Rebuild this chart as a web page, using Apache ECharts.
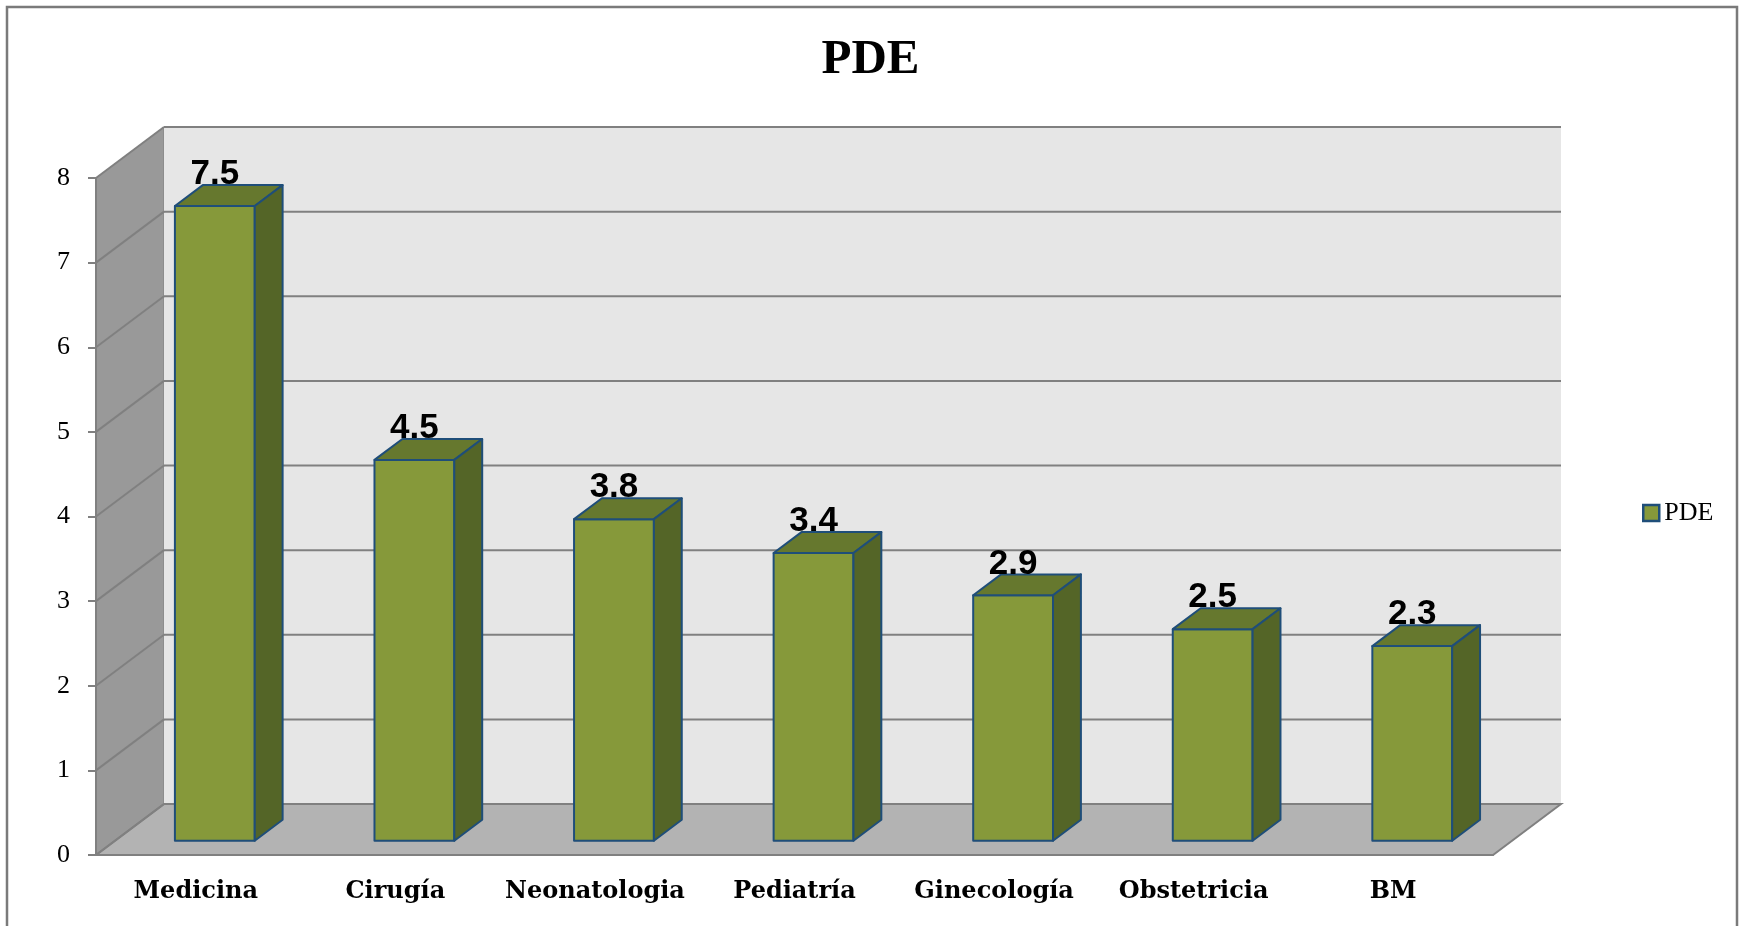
<!DOCTYPE html>
<html>
<head>
<meta charset="utf-8">
<title>PDE</title>
<script src="https://cdn.jsdelivr.net/npm/echarts@6/dist/echarts.min.js"></script>
<style>
  html, body { margin: 0; padding: 0; background: #fff; }
  #chart { width: 1741px; height: 926px; }
</style>
</head>
<body>
<div id="chart"></div>
<script>
// datos del gráfico
const categories = ['Medicina', 'Cirugía', 'Neonatologia', 'Pediatría', 'Ginecología', 'Obstetricia', 'BM']
const pdeValues = [7.5, 4.5, 3.8, 3.4, 2.9, 2.5, 2.3]
const yTicks = [0, 1, 2, 3, 4, 5, 6, 7, 8]

// profundidad de la vista 3D (px)
const DX = 68
const DY = -51
const F0 = 0.28
const F1 = 0.69

const GRID_LINE = '#808080'

const myChart = echarts.init(document.getElementById('chart'))

function renderWalls (params, api) {
  const v = api.value(1)
  const cs = params.coordSys
  const x0 = cs.x
  const x1 = cs.x + cs.width
  const yTop = cs.y
  const yBot = cs.y + cs.height
  const y = api.coord([0, v])[1]
  const children = []
  if (v === 0) {
    // pared izquierda
    children.push({
      type: 'polygon',
      shape: { points: [[x0, yBot], [x0, yTop], [x0 + DX, yTop + DY], [x0 + DX, yBot + DY]] },
      style: { fill: '#999999', stroke: GRID_LINE, lineWidth: 1 }
    })
    // pared de fondo
    children.push({
      type: 'rect',
      shape: { x: x0 + DX, y: yTop + DY, width: cs.width, height: cs.height },
      style: { fill: '#e6e6e6' }
    })
    // suelo
    children.push({
      type: 'polygon',
      shape: { points: [[x0, yBot], [x1, yBot], [x1 + DX, yBot + DY], [x0 + DX, yBot + DY]] },
      style: { fill: '#b3b3b3', stroke: GRID_LINE, lineWidth: 2 }
    })
  }
  children.push({
    type: 'line',
    shape: { x1: x0, y1: y, x2: x0 + DX, y2: y + DY },
    style: { stroke: GRID_LINE, lineWidth: 2 }
  })
  children.push({
    type: 'line',
    shape: { x1: x0 + DX, y1: y + DY, x2: x1 + DX, y2: y + DY },
    style: { stroke: GRID_LINE, lineWidth: 2 }
  })
  return { type: 'group', children: children }
}

function renderBars (params, api) {
  const idx = api.value(0)
  const val = api.value(1)
  const base = api.coord([idx, 0])
  const top = api.coord([idx, val])
  const band = api.size([1, 0])[0]
  const w = band * 0.4
  const ddx = DX * (F1 - F0)
  const ddy = DY * (F1 - F0)
  const cx = base[0] + DX * F0
  const l = cx - w / 2
  const r = cx + w / 2
  const b = base[1] + DY * F0
  const t = top[1] + DY * F0
  const edge = { stroke: '#1f4e79', lineWidth: 2, lineJoin: 'round' }
  return {
    type: 'group',
    children: [
      {
        type: 'rect',
        shape: { x: l, y: t, width: w, height: b - t },
        style: Object.assign({ fill: '#86993a' }, edge)
      },
      {
        type: 'polygon',
        shape: { points: [[l, t], [r, t], [r + ddx, t + ddy], [l + ddx, t + ddy]] },
        style: Object.assign({ fill: '#66782e' }, edge)
      },
      {
        type: 'polygon',
        shape: { points: [[r, b], [r, t], [r + ddx, t + ddy], [r + ddx, b + ddy]] },
        style: Object.assign({ fill: '#546527' }, edge)
      },
      {
        type: 'text',
        style: {
          text: String(val),
          x: cx,
          y: t + ddy + 7,
          align: 'center',
          verticalAlign: 'bottom',
          font: 'bold 35px "Liberation Sans", Arial, sans-serif',
          fill: '#000'
        }
      }
    ]
  }
}

const option = {
  animation: false,
  title: {
    text: 'PDE',
    left: 'center',
    top: 31,
    textStyle: {
      fontFamily: 'Liberation Serif',
      fontWeight: 'bold',
      fontSize: 49,
      color: '#000'
    }
  },
  legend: {
    data: ['PDE'],
    left: 1637,
    top: 495,
    icon: 'rect',
    itemWidth: 16,
    itemHeight: 16,
    itemGap: 6,
    itemStyle: { color: '#86993a', borderColor: '#1f4e79', borderWidth: 2.5 },
    textStyle: { fontFamily: 'Liberation Serif', fontSize: 26, color: '#000' }
  },
  grid: {
    left: 96,
    right: 248,
    top: 178,
    bottom: 71
  },
  xAxis: {
    type: 'category',
    data: categories,
    z: 5,
    axisLine: { lineStyle: { color: GRID_LINE, width: 2 } },
    axisTick: { length: 9, interval: 0, lineStyle: { color: GRID_LINE, width: 2 } },
    axisLabel: {
      interval: 0,
      margin: 25,
      fontFamily: 'DejaVu Serif',
      fontWeight: 'bold',
      fontSize: 24,
      color: '#000'
    },
    splitLine: { show: false }
  },
  yAxis: {
    type: 'value',
    min: 0,
    max: 8,
    interval: 1,
    z: 5,
    axisLine: { show: true, lineStyle: { color: GRID_LINE, width: 2 } },
    axisTick: { show: true, length: 8, lineStyle: { color: GRID_LINE, width: 2 } },
    axisLabel: {
      margin: 26,
      fontFamily: 'Liberation Serif',
      fontSize: 26,
      color: '#000'
    },
    splitLine: { show: false }
  },
  graphic: [
    {
      type: 'rect',
      shape: { x: 7, y: 7, width: 1730, height: 940 },
      style: { fill: 'none', stroke: '#7a7a7a', lineWidth: 2.5 },
      z: 10,
      silent: true
    }
  ],
  series: [
    {
      name: 'walls',
      type: 'custom',
      z: 1,
      silent: true,
      renderItem: renderWalls,
      encode: { x: 0, y: 1 },
      data: yTicks.map(function (v) { return [0, v] })
    },
    {
      name: 'PDE',
      type: 'custom',
      z: 3,
      itemStyle: { color: '#86993a', borderColor: '#1f4e79', borderWidth: 2.5 },
      renderItem: renderBars,
      encode: { x: 0, y: 1 },
      data: pdeValues.map(function (v, i) { return [i, v] })
    }
  ]
}

myChart.setOption(option)
window.addEventListener('resize', function () {
  myChart.resize()
})
</script>
</body>
</html>
